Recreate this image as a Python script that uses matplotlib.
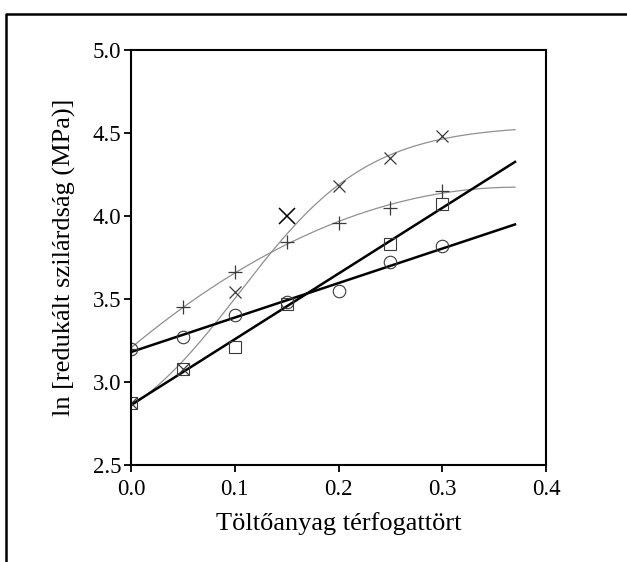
import numpy as np
import matplotlib
matplotlib.use("Agg")
import matplotlib.pyplot as plt
from matplotlib.lines import Line2D

plt.rcParams['font.family'] = ['Liberation Serif', 'DejaVu Serif']

# filler volume fraction
phi = [0.0, 0.05, 0.10, 0.15, 0.20, 0.25, 0.30]

# ln of reduced strength for the four series
ln_x = [2.87, 3.08, 3.54, 4.00, 4.18, 4.35, 4.48]
ln_plus = [3.20, 3.45, 3.66, 3.84, 3.96, 4.05, 4.15]
ln_circ = [3.20, 3.27, 3.40, 3.48, 3.55, 3.72, 3.82]
phi_sq = [0.0, 0.05, 0.10, 0.15, 0.25, 0.30]
ln_sq = [2.87, 3.08, 3.21, 3.47, 3.83, 4.07]

# the x point at phi = 0.15 is an outlier, left out of the fit
x_outlier = 3

xticks = [0.0, 0.1, 0.2, 0.3, 0.4]
yticks = [2.5, 3.0, 3.5, 4.0, 4.5, 5.0]


def sigmoid_fit(x, y, xf):
    # y = a + b*tanh((x - x0)/s), grid over x0, s and least squares for a, b
    x = np.asarray(x)
    y = np.asarray(y)
    best = None
    for x0 in np.linspace(0.05, 0.25, 81):
        for s in np.linspace(0.05, 0.4, 71):
            A = np.column_stack([np.ones_like(x), np.tanh((x - x0) / s)])
            coef, res, _, _ = np.linalg.lstsq(A, y, rcond=None)
            err = np.sum((A @ coef - y) ** 2)
            if best is None or err < best[0]:
                best = (err, x0, s, coef)
    _, x0, s, (a, b) = best
    return a + b * np.tanh((xf - x0) / s)


fig = plt.figure(figsize=(6.27, 5.62), dpi=100)
ax = fig.add_axes([0.209, 0.173, 0.662, 0.738])

xf = np.linspace(0, 0.37, 200)
gray = '#909090'
mk = '#3a3a3a'

keep = [i for i in range(len(phi)) if i != x_outlier]
phi_fit = [phi[i] for i in keep]
ln_x_fit = [ln_x[i] for i in keep]

# curved fits (thin grey)
ax.plot(xf, sigmoid_fit(phi_fit, ln_x_fit, xf), color=gray, lw=0.9)
c = np.polyfit(phi, ln_plus, 2)
ax.plot(xf, np.polyval(c, xf), color=gray, lw=0.9)

# linear fits (thick black)
c = np.polyfit(phi, ln_circ, 1)
ax.plot(xf, np.polyval(c, xf), color='black', lw=1.8)
c = np.polyfit(phi_sq, ln_sq, 1)
ax.plot(xf, np.polyval(c, xf), color='black', lw=1.8)

ax.plot(phi_fit, ln_x_fit, 'x', color=mk, ms=9, mew=0.9)
ax.plot(phi[x_outlier], ln_x[x_outlier], 'x', color='black', ms=11, mew=1.1)
ax.plot(phi, ln_plus, '+', color=mk, ms=10, mew=0.9)
ax.plot(phi, ln_circ, 'o', mfc='none', mec=mk, ms=9, mew=0.8)
ax.plot(phi_sq, ln_sq, 's', mfc='none', mec=mk, ms=9, mew=0.8)

ax.set_xlim(0, 0.4)
ax.set_ylim(2.5, 5.0)
ax.set_xticks(xticks)
ax.set_yticks(yticks)
ax.set_xticklabels(['%.1f' % t for t in xticks])
ax.set_yticklabels(['%.1f' % t for t in yticks])
ax.tick_params(direction='out', length=5, width=1.3, labelsize=16.5, pad=2)
ax.tick_params(axis='x', pad=5)
for s in ax.spines.values():
    s.set_linewidth(1.5)

ax.set_xlabel('Töltőanyag térfogattört', fontsize=19, labelpad=9)
ax.set_ylabel('ln [redukált szilárdság (MPa)]', fontsize=19, labelpad=12)

# outer frame (left and top edges)
fx = 6 / 627
fy = 1 - 14 / 562
fig.add_artist(Line2D([fx, fx, 1.01], [-0.01, fy, fy], transform=fig.transFigure,
                      color='black', lw=1.8))

fig.savefig('out.png', dpi=100)
